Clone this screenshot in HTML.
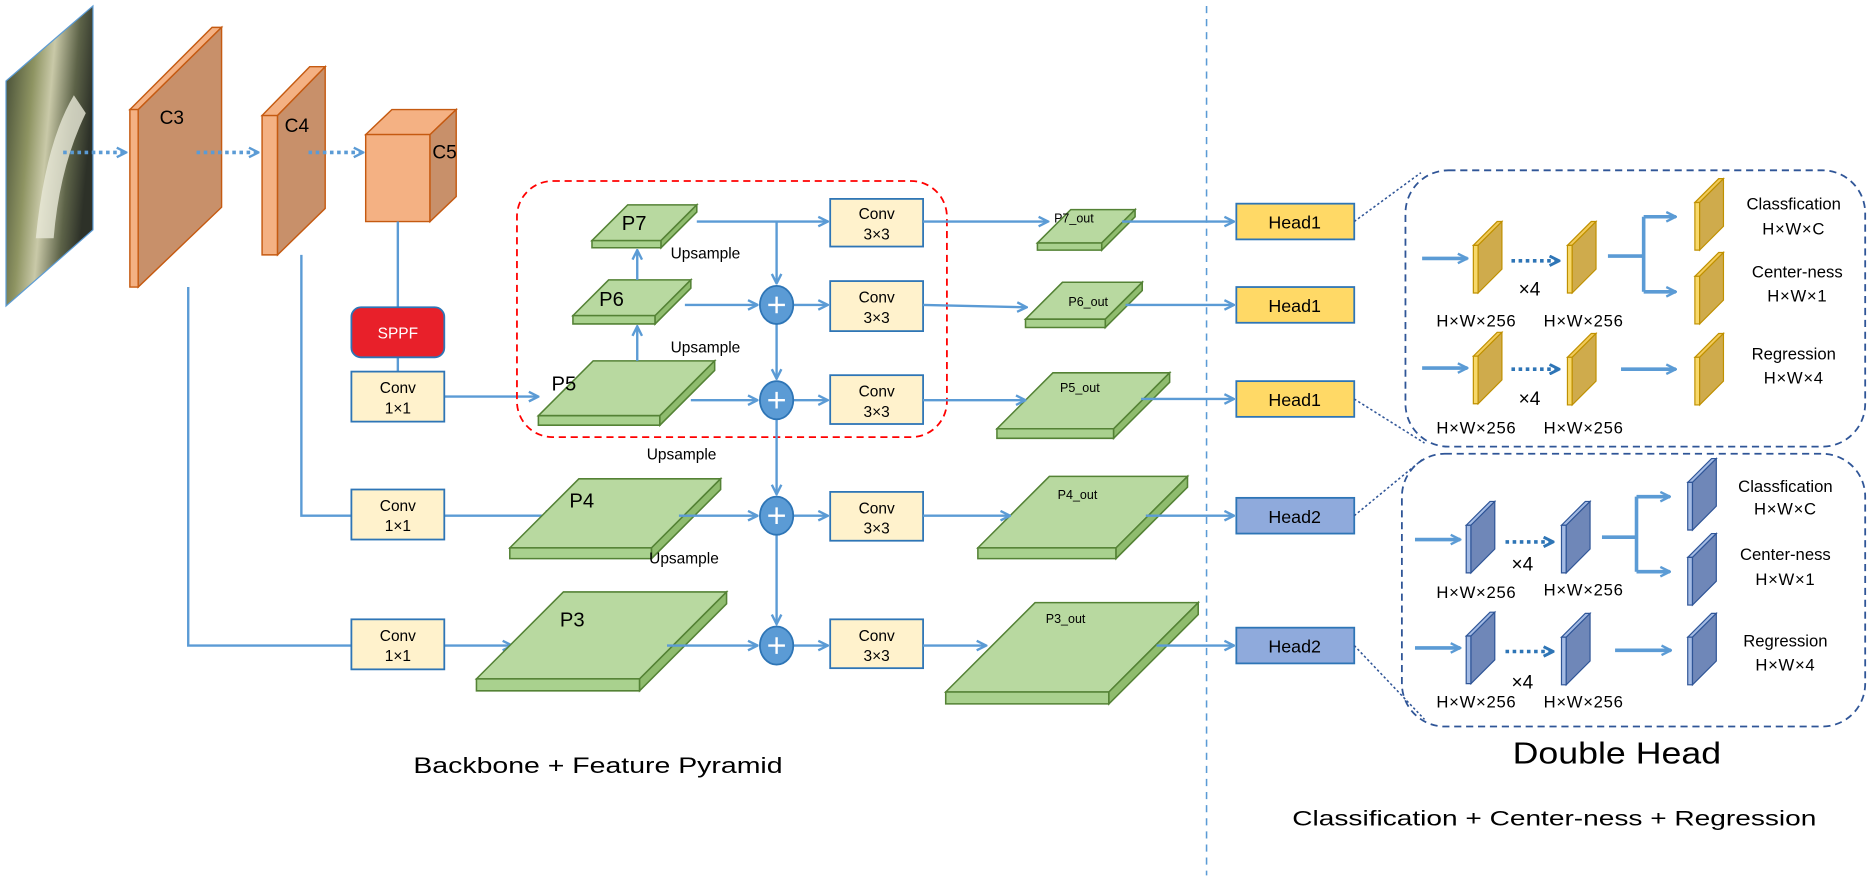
<!DOCTYPE html>
<html><head><meta charset="utf-8"><style>
html,body{margin:0;padding:0;background:#fff;}
svg{display:block}
text{font-family:"Liberation Sans",sans-serif;}
</style></head><body>
<svg width="1870" height="876" viewBox="0 0 1570 735.5" xmlns="http://www.w3.org/2000/svg">
<defs>
<marker id="a" viewBox="0 0 10 10" refX="9" refY="5" markerWidth="10" markerHeight="10" markerUnits="userSpaceOnUse" orient="auto">
<path d="M1,1 L9,5 L1,9" fill="none" stroke="#5b9bd5" stroke-width="2"/></marker>
<marker id="ad" viewBox="0 0 10 10" refX="9" refY="5" markerWidth="10" markerHeight="10" markerUnits="userSpaceOnUse" orient="auto">
<path d="M1,1 L9,5 L1,9" fill="none" stroke="#2e75b6" stroke-width="2.5"/></marker>
<linearGradient id="img" x1="0" y1="0" x2="1" y2="0.3">
<stop offset="0" stop-color="#3c4430"/><stop offset="0.35" stop-color="#8e9462"/><stop offset="0.55" stop-color="#c9c9a8"/><stop offset="0.8" stop-color="#5d6348"/><stop offset="1" stop-color="#2d3128"/></linearGradient>
<g id="yp"><polygon points="0,20 20,0 24,0 4,20" fill="#f2cb5a" stroke="#bf9000" stroke-width="1"/><polygon points="0,20 4,20 4,60 0,60" fill="#f7d86a" stroke="#bf9000" stroke-width="1"/><polygon points="4,20 24,0 24,40 4,60" fill="#cfab4c" stroke="#bf9000" stroke-width="1"/></g>
<g id="bp"><polygon points="0,20 20,0 24,0 4,20" fill="#a4bbe4" stroke="#2f5597" stroke-width="1"/><polygon points="0,20 4,20 4,60 0,60" fill="#a4bbe4" stroke="#2f5597" stroke-width="1"/><polygon points="4,20 24,0 24,40 4,60" fill="#6f87b8" stroke="#2f5597" stroke-width="1"/></g>
</defs>

<!-- input image -->
<polygon points="5,68 78,5 78,193 5,257" fill="url(#img)" stroke="#5b9bd5" stroke-width="1"/>
<path d="M30,200 Q38,120 62,80 L72,95 Q50,140 45,200 Z" fill="#e8e8d8" opacity="0.8"/>

<!-- C3 -->
<polygon points="109,92 178,23 186,23 116,92" fill="#f4b183" stroke="#c55a11" stroke-width="1.2"/>
<polygon points="109,92 116,92 116,241 109,241" fill="#f4b183" stroke="#c55a11" stroke-width="1.2"/>
<polygon points="116,92 186,23 186,174 116,241" fill="#c8906a" stroke="#c55a11" stroke-width="1.2"/>
<text x="134" y="104" font-size="16">C3</text>
<!-- C4 -->
<polygon points="220,97 260,56 273,56 233,97" fill="#f4b183" stroke="#c55a11" stroke-width="1.2"/>
<polygon points="220,97 233,97 233,214 220,214" fill="#f4b183" stroke="#c55a11" stroke-width="1.2"/>
<polygon points="233,97 273,56 273,175 233,214" fill="#c8906a" stroke="#c55a11" stroke-width="1.2"/>
<text x="239" y="111" font-size="16">C4</text>
<!-- C5 -->
<polygon points="307,113 329,92 383,92 361,113" fill="#f4b183" stroke="#c55a11" stroke-width="1.2"/>
<polygon points="307,113 361,113 361,186 307,186" fill="#f4b183" stroke="#c55a11" stroke-width="1.2"/>
<polygon points="361,113 383,92 383,165 361,186" fill="#c8906a" stroke="#c55a11" stroke-width="1.2"/>
<text x="363" y="133" font-size="16">C5</text>

<!-- dotted arrows -->
<g stroke="#5b9bd5" stroke-width="3" stroke-dasharray="3,3" fill="none">
<line x1="53" y1="128" x2="106" y2="128" marker-end="url(#a)"/>
<line x1="165" y1="128" x2="217" y2="128" marker-end="url(#a)"/>
<line x1="259" y1="128" x2="305" y2="128" marker-end="url(#a)"/>
</g>

<!-- backbone lines -->
<g stroke="#5b9bd5" stroke-width="2" fill="none">
<line x1="334" y1="186" x2="334" y2="258"/>
<line x1="334" y1="300" x2="334" y2="312"/>
<polyline points="253,214 253,433 295,433"/>
<polyline points="158,241 158,542 295,542"/>
<line x1="373" y1="333" x2="452" y2="333" marker-end="url(#a)"/>
<line x1="373" y1="433" x2="466" y2="433" marker-end="url(#a)"/>
<line x1="373" y1="542" x2="430" y2="542" marker-end="url(#a)"/>
</g>

<rect x="295" y="258" width="78" height="42" rx="8" fill="#e8202a" stroke="#2e75b6" stroke-width="1.5"/>
<text x="334" y="284" font-size="13" fill="#fff" text-anchor="middle">SPPF</text>

<g fill="#fff2cc" stroke="#2e75b6" stroke-width="1.5">
<rect x="295" y="312" width="78" height="42"/>
<rect x="295" y="411" width="78" height="42"/>
<rect x="295" y="520" width="78" height="42"/>
<rect x="697" y="167" width="78" height="40"/>
<rect x="697" y="236" width="78" height="42"/>
<rect x="697" y="315" width="78" height="41"/>
<rect x="697" y="413" width="78" height="41"/>
<rect x="697" y="520" width="78" height="41"/>
</g>
<g font-size="13" text-anchor="middle">
<text x="334" y="330">Conv</text><text x="334" y="347">1×1</text>
<text x="334" y="429">Conv</text><text x="334" y="446">1×1</text>
<text x="334" y="538">Conv</text><text x="334" y="555">1×1</text>
<text x="736" y="184">Conv</text><text x="736" y="201">3×3</text>
<text x="736" y="254">Conv</text><text x="736" y="271">3×3</text>
<text x="736" y="333">Conv</text><text x="736" y="350">3×3</text>
<text x="736" y="431">Conv</text><text x="736" y="448">3×3</text>
<text x="736" y="538">Conv</text><text x="736" y="555">3×3</text>
</g>

<!-- red dashed box -->
<rect x="434" y="152" width="361" height="215" rx="30" fill="none" stroke="#ff0000" stroke-width="1.5" stroke-dasharray="6,4"/>

<!-- green slabs -->
<g fill="#b8d9a0" stroke="#548235" stroke-width="1.3">
<polygon points="497,202 527,172 585,172 555,202"/><polygon points="497,202 555,202 555,208 497,208" fill="#a9d18e"/><polygon points="555,202 585,172 585,178 555,208" fill="#8fbc6e"/>
<polygon points="481,265 511,235 580,235 550,265"/><polygon points="481,265 550,265 550,272 481,272" fill="#a9d18e"/><polygon points="550,265 580,235 580,242 550,272" fill="#8fbc6e"/>
<polygon points="452,349 498,303 600,303 554,349"/><polygon points="452,349 554,349 554,357 452,357" fill="#a9d18e"/><polygon points="554,349 600,303 600,311 554,357" fill="#8fbc6e"/>
<polygon points="428,460 486,402 605,402 547,460"/><polygon points="428,460 547,460 547,469 428,469" fill="#a9d18e"/><polygon points="547,460 605,402 605,411 547,469" fill="#8fbc6e"/>
<polygon points="400,570 473,497 610,497 537,570"/><polygon points="400,570 537,570 537,580 400,580" fill="#a9d18e"/><polygon points="537,570 610,497 610,507 537,580" fill="#8fbc6e"/>
<polygon points="871,204 899,176 953,176 925,204"/><polygon points="871,204 925,204 925,210 871,210" fill="#a9d18e"/><polygon points="925,204 953,176 953,182 925,210" fill="#8fbc6e"/>
<polygon points="861,268 892,237 959,237 928,268"/><polygon points="861,268 928,268 928,275 861,275" fill="#a9d18e"/><polygon points="928,268 959,237 959,244 928,275" fill="#8fbc6e"/>
<polygon points="837,360 884,313 982,313 935,360"/><polygon points="837,360 935,360 935,368 837,368" fill="#a9d18e"/><polygon points="935,360 982,313 982,321 935,368" fill="#8fbc6e"/>
<polygon points="821,460 881,400 997,400 937,460"/><polygon points="821,460 937,460 937,469 821,469" fill="#a9d18e"/><polygon points="937,460 997,400 997,409 937,469" fill="#8fbc6e"/>
<polygon points="794,581 869,506 1006,506 931,581"/><polygon points="794,581 931,581 931,591 794,591" fill="#a9d18e"/><polygon points="931,581 1006,506 1006,516 931,591" fill="#8fbc6e"/>
</g>
<g font-size="17">
<text x="522" y="193">P7</text><text x="503" y="257">P6</text><text x="463" y="328">P5</text><text x="478" y="426">P4</text><text x="470" y="526">P3</text>
</g>
<g font-size="10.5">
<text x="885" y="187">P7_out</text><text x="897" y="257">P6_out</text><text x="890" y="329">P5_out</text><text x="888" y="419">P4_out</text><text x="878" y="523">P3_out</text>
</g>

<!-- FPN connectors -->
<g stroke="#5b9bd5" stroke-width="2" fill="none">
<line x1="535" y1="235" x2="535" y2="210" marker-end="url(#a)"/>
<line x1="535" y1="303" x2="535" y2="274" marker-end="url(#a)"/>
<line x1="585" y1="186" x2="695" y2="186" marker-end="url(#a)"/>
<line x1="652" y1="186" x2="652" y2="238" marker-end="url(#a)"/>
<line x1="575" y1="256" x2="636" y2="256" marker-end="url(#a)"/>
<line x1="580" y1="336" x2="636" y2="336" marker-end="url(#a)"/>
<line x1="570" y1="433" x2="636" y2="433" marker-end="url(#a)"/>
<line x1="560" y1="542" x2="636" y2="542" marker-end="url(#a)"/>
<line x1="652" y1="272" x2="652" y2="318" marker-end="url(#a)"/>
<line x1="652" y1="352" x2="652" y2="415" marker-end="url(#a)"/>
<line x1="652" y1="449" x2="652" y2="524" marker-end="url(#a)"/>
<line x1="666" y1="256" x2="695" y2="256" marker-end="url(#a)"/>
<line x1="666" y1="336" x2="695" y2="336" marker-end="url(#a)"/>
<line x1="666" y1="433" x2="695" y2="433" marker-end="url(#a)"/>
<line x1="666" y1="542" x2="695" y2="542" marker-end="url(#a)"/>
<line x1="775" y1="186" x2="880" y2="186" marker-end="url(#a)"/>
<line x1="775" y1="256" x2="862" y2="258" marker-end="url(#a)"/>
<line x1="775" y1="336" x2="861" y2="336" marker-end="url(#a)"/>
<line x1="775" y1="433" x2="848" y2="433" marker-end="url(#a)"/>
<line x1="775" y1="542" x2="828" y2="542" marker-end="url(#a)"/>
<line x1="942" y1="186" x2="1036" y2="186" marker-end="url(#a)"/>
<line x1="945" y1="256" x2="1036" y2="256" marker-end="url(#a)"/>
<line x1="958" y1="335" x2="1036" y2="335" marker-end="url(#a)"/>
<line x1="962" y1="433" x2="1036" y2="433" marker-end="url(#a)"/>
<line x1="971" y1="542" x2="1036" y2="542" marker-end="url(#a)"/>
</g>
<g fill="#5b9bd5" stroke="#2e75b6" stroke-width="1.5">
<ellipse cx="652" cy="256" rx="14" ry="16"/><ellipse cx="652" cy="336" rx="14" ry="16"/><ellipse cx="652" cy="433" rx="14" ry="16"/><ellipse cx="652" cy="542" rx="14" ry="16"/>
</g>
<g stroke="#fff" stroke-width="2">
<path d="M645,256 H659 M652,249 V263"/><path d="M645,336 H659 M652,329 V343"/><path d="M645,433 H659 M652,426 V440"/><path d="M645,542 H659 M652,535 V549"/>
</g>
<g font-size="13">
<text x="563" y="217">Upsample</text><text x="563" y="296">Upsample</text><text x="543" y="386">Upsample</text><text x="545" y="473">Upsample</text>
</g>

<!-- divider -->
<line x1="1013" y1="5" x2="1013" y2="735" stroke="#5b9bd5" stroke-width="1.3" stroke-dasharray="6,5"/>

<!-- heads -->
<g stroke="#2e75b6" stroke-width="1.5">
<rect x="1038" y="171" width="99" height="30" fill="#ffd966"/>
<rect x="1038" y="241" width="99" height="30" fill="#ffd966"/>
<rect x="1038" y="320" width="99" height="30" fill="#ffd966"/>
<rect x="1038" y="418" width="99" height="30" fill="#8faadc"/>
<rect x="1038" y="527" width="99" height="30" fill="#8faadc"/>
</g>
<g font-size="15" text-anchor="middle">
<text x="1087" y="192">Head1</text><text x="1087" y="262">Head1</text><text x="1087" y="341">Head1</text><text x="1087" y="439">Head2</text><text x="1087" y="548">Head2</text>
</g>
<g stroke="#2f5597" stroke-width="1.3" stroke-dasharray="2,2" fill="none">
<line x1="1137" y1="186" x2="1193" y2="145"/>
<line x1="1137" y1="335" x2="1196" y2="372"/>
<line x1="1137" y1="433" x2="1194" y2="386"/>
<line x1="1137" y1="542" x2="1196" y2="604"/>
</g>
<g fill="none" stroke="#2f5597" stroke-width="1.5" stroke-dasharray="6,4">
<rect x="1180" y="143" width="386" height="232" rx="36"/>
<rect x="1177" y="381" width="389" height="229" rx="36"/>
</g>

<!-- head internals -->
<g stroke="#5b9bd5" stroke-width="3" fill="none">
<line x1="1194" y1="217" x2="1232" y2="217" marker-end="url(#a)"/>
<line x1="1194" y1="309" x2="1232" y2="309" marker-end="url(#a)"/>
<polyline points="1350,215 1380,215"/><polyline points="1380,182 1380,245"/>
<line x1="1380" y1="182" x2="1407" y2="182" marker-end="url(#a)"/>
<line x1="1380" y1="245" x2="1407" y2="245" marker-end="url(#a)"/>
<line x1="1361" y1="310" x2="1407" y2="310" marker-end="url(#a)"/>
<line x1="1188" y1="453" x2="1226" y2="453" marker-end="url(#a)"/>
<line x1="1188" y1="544" x2="1226" y2="544" marker-end="url(#a)"/>
<polyline points="1345,451 1374,451"/><polyline points="1374,417 1374,480"/>
<line x1="1374" y1="417" x2="1402" y2="417" marker-end="url(#a)"/>
<line x1="1374" y1="480" x2="1402" y2="480" marker-end="url(#a)"/>
<line x1="1356" y1="546" x2="1403" y2="546" marker-end="url(#a)"/>
</g>
<g stroke="#2e75b6" stroke-width="3" stroke-dasharray="3,3" fill="none">
<line x1="1269" y1="219" x2="1309" y2="219" marker-end="url(#ad)"/>
<line x1="1269" y1="310" x2="1309" y2="310" marker-end="url(#ad)"/>
<line x1="1264" y1="455" x2="1304" y2="455" marker-end="url(#ad)"/>
<line x1="1264" y1="547" x2="1304" y2="547" marker-end="url(#ad)"/>
</g>
<use href="#yp" x="1237" y="186"/><use href="#yp" x="1316" y="186"/>
<use href="#yp" x="1237" y="279"/><use href="#yp" x="1316" y="280"/>
<use href="#yp" x="1423" y="150"/><use href="#yp" x="1423" y="212"/><use href="#yp" x="1423" y="280"/>
<use href="#bp" x="1231" y="421"/><use href="#bp" x="1311" y="421"/>
<use href="#bp" x="1231" y="514"/><use href="#bp" x="1311" y="515"/>
<use href="#bp" x="1417" y="385"/><use href="#bp" x="1417" y="448"/><use href="#bp" x="1417" y="515"/>
<g font-size="16">
<text x="1275" y="248">×4</text><text x="1275" y="340">×4</text>
<text x="1269" y="479">×4</text><text x="1269" y="578">×4</text>
</g>
<g font-size="14" letter-spacing="0.6">
<text x="1206" y="274">H×W×256</text><text x="1296" y="274">H×W×256</text>
<text x="1206" y="364">H×W×256</text><text x="1296" y="364">H×W×256</text>
<text x="1206" y="502">H×W×256</text><text x="1296" y="500">H×W×256</text>
<text x="1206" y="594">H×W×256</text><text x="1296" y="594">H×W×256</text>
</g>
<g font-size="14" text-anchor="middle">
<text x="1506" y="176">Classfication</text><text x="1506" y="197" letter-spacing="0.6">H×W×C</text>
<text x="1509" y="233">Center-ness</text><text x="1509" y="253" letter-spacing="0.6">H×W×1</text>
<text x="1506" y="302">Regression</text><text x="1506" y="322" letter-spacing="0.6">H×W×4</text>
<text x="1499" y="413">Classfication</text><text x="1499" y="432" letter-spacing="0.6">H×W×C</text>
<text x="1499" y="470">Center-ness</text><text x="1499" y="491" letter-spacing="0.6">H×W×1</text>
<text x="1499" y="543">Regression</text><text x="1499" y="563" letter-spacing="0.6">H×W×4</text>
</g>

<text x="347" y="649" font-size="19" textLength="310" lengthAdjust="spacingAndGlyphs">Backbone + Feature Pyramid</text>
<text x="1270" y="641" font-size="26" textLength="175" lengthAdjust="spacingAndGlyphs">Double Head</text>
<text x="1085" y="693" font-size="18" textLength="440" lengthAdjust="spacingAndGlyphs">Classification + Center-ness + Regression</text>
</svg>
</body></html>
